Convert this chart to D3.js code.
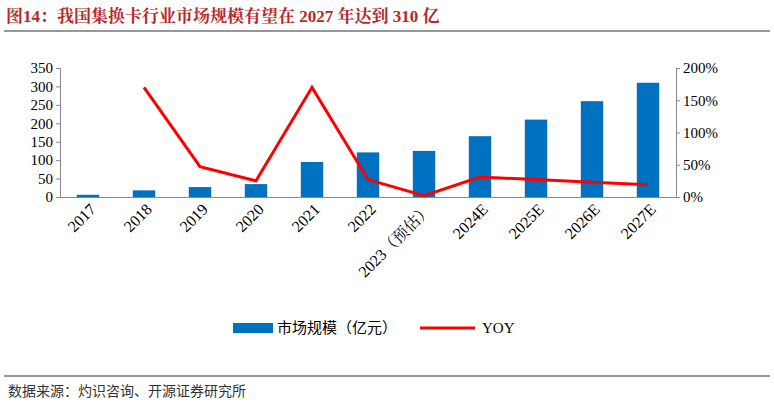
<!DOCTYPE html><html><head><meta charset="utf-8"><script src="https://cdn.jsdelivr.net/npm/d3@7"></script>
<style>body{margin:0;background:#fff}</style></head><body><svg id="c" width="774" height="405"></svg>
<script>
const categories=["2017","2018","2019","2020","2021","2022","2023（预估）","2024E","2025E","2026E","2027E"];
const marketSize=[6,18,27,35,95,121,125,165,210,260,310];
const yoy=[null,1.70,0.47,0.25,1.70,0.27,0.02,0.31,0.27,0.23,0.19];
const leftTicks=[0,50,100,150,200,250,300,350];
const rightTicks=[0,0.5,1,1.5,2];
const svg=d3.select("#c");
const serif="'Liberation Serif','Noto Serif CJK SC','Noto Sans CJK SC',serif";
svg.append("text").attr("x",6).attr("y",22).attr("font-family",serif).attr("font-weight","bold").attr("font-size",17).attr("fill","#b8282a").text("图14：我国集换卡行业市场规模有望在 2027 年达到 310 亿");
svg.append("line").attr("x1",4).attr("x2",770).attr("y1",31).attr("y2",31).attr("stroke","#333");
svg.append("line").attr("x1",4).attr("x2",770).attr("y1",376).attr("y2",376).attr("stroke","#333");
svg.append("text").attr("x",8).attr("y",396).attr("font-family","'Noto Sans CJK SC',sans-serif").attr("font-size",14).attr("fill","#333").text("数据来源：灼识咨询、开源证券研究所");
const x=d3.scaleBand().domain(categories).range([60,676]).paddingInner(0.6).paddingOuter(0.3);
const y=d3.scaleLinear().domain([0,350]).range([197,68]);
const y2=d3.scaleLinear().domain([0,2]).range([197,68]);
const gL=svg.append("g").attr("transform","translate(60,0)").call(d3.axisLeft(y).tickValues(leftTicks).tickSize(4));
const gR=svg.append("g").attr("transform","translate(676,0)").call(d3.axisRight(y2).tickValues(rightTicks).tickFormat(d=>Math.round(d*100)+"%").tickSize(4));
const gX=svg.append("g").attr("transform","translate(0,197)").call(d3.axisBottom(x).tickSize(0));
[gL,gR,gX].forEach(g=>{g.selectAll("text").attr("font-family",serif).attr("font-size",15).attr("fill","#000");g.selectAll("path,line").attr("stroke","#888");});
gX.selectAll("text").attr("font-size",16).attr("text-anchor","end").attr("dx","-0.2em").attr("dy","0.8em").attr("transform","rotate(-45)");
svg.append("g").selectAll("rect").data(marketSize).join("rect").attr("x",(d,i)=>x(categories[i])).attr("width",x.bandwidth()).attr("y",d=>y(d)).attr("height",d=>197-y(d)).attr("fill","#0070c0");
const line=d3.line().defined(d=>d!=null).x((d,i)=>x(categories[i])+x.bandwidth()/2).y(d=>y2(d));
svg.append("path").datum(yoy).attr("d",line).attr("fill","none").attr("stroke","#ff0000").attr("stroke-width",3);
const lg=svg.append("g").attr("font-family","'Noto Sans CJK SC',sans-serif").attr("font-size",15);
lg.append("rect").attr("x",233).attr("y",323).attr("width",40).attr("height",10).attr("fill","#0070c0");
lg.append("text").attr("x",277).attr("y",333).text("市场规模（亿元）");
lg.append("line").attr("x1",420).attr("x2",475).attr("y1",328).attr("y2",328).attr("stroke","#ff0000").attr("stroke-width",3);
lg.append("text").attr("x",482).attr("y",333).attr("font-family",serif).text("YOY");
</script></body></html>
